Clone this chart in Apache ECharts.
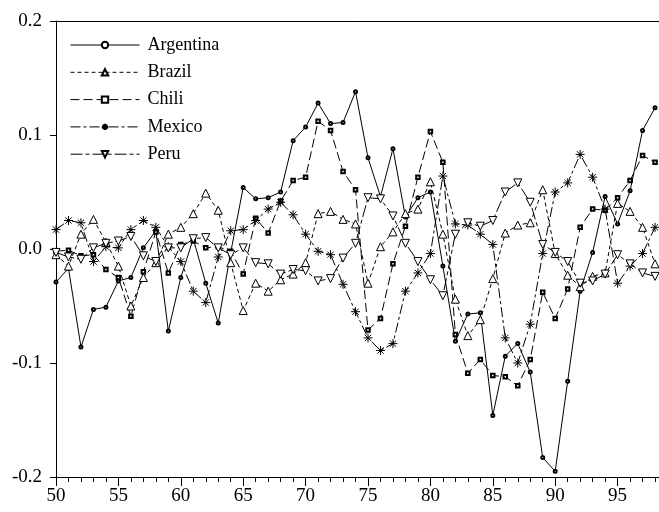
<!DOCTYPE html>
<html>
<head>
<meta charset="utf-8">
<script src="https://cdn.jsdelivr.net/npm/echarts@6/dist/echarts.min.js"></script>
<style>
  html, body { margin: 0; padding: 0; background: #fff; }
  #chart { width: 659px; height: 512px; }
</style>
</head>
<body>
<div id="chart"></div>
<script>
// years 1950-1998, shown as two digits
var years = [50, 51, 52, 53, 54, 55, 56, 57, 58, 59, 60, 61, 62, 63, 64, 65, 66, 67, 68, 69,
  70, 71, 72, 73, 74, 75, 76, 77, 78, 79, 80, 81, 82, 83, 84, 85, 86, 87, 88, 89,
  90, 91, 92, 93, 94, 95, 96, 97, 98];

var argentina = [-0.029, -0.017, -0.086, -0.053, -0.051, -0.028, -0.025, 0.001, 0.016, -0.072,
  -0.025, 0.009, -0.030, -0.065, -0.003, 0.054, 0.044, 0.045, 0.050, 0.095,
  0.107, 0.128, 0.110, 0.111, 0.138, 0.080, 0.046, 0.088, 0.028, 0.045,
  0.050, -0.015, -0.081, -0.057, -0.056, -0.146, -0.094, -0.083, -0.108, -0.183,
  -0.195, -0.116, -0.037, -0.003, 0.046, 0.022, 0.051, 0.104, 0.124];

var brazil = [-0.005, -0.015, 0.013, 0.026, 0.006, -0.015, -0.050, -0.025, -0.012, 0.013,
  0.019, 0.031, 0.049, 0.034, -0.012, -0.054, -0.030, -0.037, -0.027, -0.022,
  -0.012, 0.031, 0.033, 0.026, 0.022, -0.030, 0.002, 0.015, 0.031, 0.035,
  0.059, 0.013, -0.044, -0.076, -0.062, -0.026, 0.014, 0.021, 0.023, 0.052,
  -0.004, -0.023, -0.033, -0.024, -0.021, 0.040, 0.033, 0.019, -0.013];

var chili = [-0.002, -0.001, -0.006, -0.005, -0.018, -0.025, -0.059, -0.020, 0.015, -0.021,
  0.004, 0.007, 0.001, 0.002, -0.002, -0.022, 0.027, 0.014, 0.042, 0.060,
  0.063, 0.112, 0.104, 0.068, 0.052, -0.071, -0.061, -0.013, 0.020, 0.063,
  0.103, 0.076, -0.075, -0.109, -0.097, -0.111, -0.112, -0.120, -0.097, -0.038,
  -0.061, -0.035, 0.019, 0.035, 0.034, 0.045, 0.060, 0.082, 0.076];

var mexico = [0.017, 0.025, 0.023, -0.011, 0.002, 0.001, 0.017, 0.025, 0.019, 0.002,
  -0.011, -0.037, -0.047, -0.007, 0.016, 0.017, 0.025, 0.035, 0.041, 0.030,
  0.013, -0.002, -0.005, -0.031, -0.055, -0.078, -0.089, -0.083, -0.037, -0.021,
  -0.004, 0.064, 0.022, 0.021, 0.013, 0.004, -0.078, -0.100, -0.066, -0.004,
  0.050, 0.058, 0.083, 0.063, 0.035, -0.030, -0.015, -0.004, 0.019];

var peru = [-0.003, -0.007, -0.009, 0.001, 0.005, 0.007, 0.011, -0.006, -0.011, 0.001,
  0.001, 0.009, 0.010, 0.001, -0.005, 0.001, -0.012, -0.013, -0.022, -0.018,
  -0.019, -0.028, -0.026, -0.008, 0.005, 0.045, 0.044, 0.029, 0.005, -0.011,
  -0.027, -0.041, 0.013, 0.023, 0.020, 0.025, 0.050, 0.058, 0.041, 0.004,
  -0.003, -0.011, -0.030, -0.028, -0.022, -0.005, -0.013, -0.021, -0.024];

var yTicks = [-0.2, -0.1, 0.0, 0.1, 0.2];

function pairs(vals) {
  return years.map(function (y, i) { return [y, vals[i]]; });
}

var font = "'Liberation Serif', 'DejaVu Serif', serif";

var chart = echarts.init(document.getElementById('chart'), null, { renderer: 'canvas' });

// dash patterns per series
var dashes = {
  Argentina: 'solid',
  Brazil: [4, 3],
  Chili: [9, 4],
  Mexico: [10, 3, 3, 3],
  Peru: [12, 3, 4, 3]
};

function mkSeries(name, vals, symbol, size, itemStyle) {
  return {
    name: name,
    type: 'line',
    data: pairs(vals),
    symbol: symbol,
    symbolSize: size,
    showAllSymbol: true,
    lineStyle: { color: '#000', width: 1, type: dashes[name] },
    itemStyle: itemStyle,
    emphasis: { disabled: true }
  };
}

// empty* symbols: stroke takes the item colour, fill stays white
var emptyBlack = { color: '#000', borderColor: '#000', borderWidth: 1 };
// path symbols: fill = color, stroke = borderColor
var hollow = { color: '#fff', borderColor: '#000', borderWidth: 1 };
var asterisk = 'path://M5,0 L5,10 M0,5 L10,5 M1.5,1.5 L8.5,8.5 M1.5,8.5 L8.5,1.5';

var names = ['Argentina', 'Brazil', 'Chili', 'Mexico', 'Peru'];

var option = {
  animation: false,
  backgroundColor: '#fff',
  grid: { left: 56, right: -21, top: 21, bottom: 35, outerBoundsMode: 'none', containLabel: false },
  legend: {
    orient: 'vertical',
    left: 70,
    top: 36,
    padding: 0,
    itemWidth: 69,
    itemHeight: 8,
    itemGap: 9.3,
    textStyle: { fontFamily: font, fontSize: 18, color: '#000', lineHeight: 18, padding: [0, 0, 0, 3] },
    data: names.map(function (n) {
      return { name: n, lineStyle: { color: '#000', width: 1, type: dashes[n] } };
    })
  },
  xAxis: [{
    type: 'value',
    min: 50,
    max: 100,
    interval: 5,
    axisLine: { show: true, onZero: false, lineStyle: { color: '#000', width: 1 } },
    axisTick: { show: true, length: 9, lineStyle: { color: '#000', width: 1 } },
    minorTick: { show: true, splitNumber: 5, length: 5, lineStyle: { color: '#000', width: 1 } },
    axisLabel: { fontFamily: font, fontSize: 19, color: '#000', margin: 10 },
    splitLine: { show: false }
  }, {
    type: 'value',
    position: 'top',
    min: 50,
    max: 100,
    axisLine: { show: true, onZero: false, lineStyle: { color: '#000', width: 1 } },
    axisTick: { show: false },
    axisLabel: { show: false },
    splitLine: { show: false }
  }],
  yAxis: {
    type: 'value',
    min: yTicks[0],
    max: yTicks[yTicks.length - 1],
    interval: 0.1,
    axisLine: { show: true, onZero: false, lineStyle: { color: '#000', width: 1 } },
    axisTick: { show: true, length: 6, lineStyle: { color: '#000', width: 1 } },
    axisLabel: {
      fontFamily: font, fontSize: 19, color: '#000', margin: 14,
      padding: [0, 0, 8, 0],
      formatter: function (v) { return v.toFixed(1); }
    },
    splitLine: { show: false }
  },
  series: [
    mkSeries('Argentina', argentina, 'emptyCircle', 3, emptyBlack),
    mkSeries('Brazil', brazil, 'path://M5,0 L10,9 L0,9 Z', [8, 8], hollow),
    mkSeries('Chili', chili, 'emptyRect', 3.5, emptyBlack),
    mkSeries('Mexico', mexico, asterisk, 9, { color: '#000', borderColor: '#000', borderWidth: 1 }),
    mkSeries('Peru', peru, 'path://M0,0 L10,0 L5,9 Z', [8, 8], hollow)
  ]
};

chart.setOption(option);
</script>
</body>
</html>
